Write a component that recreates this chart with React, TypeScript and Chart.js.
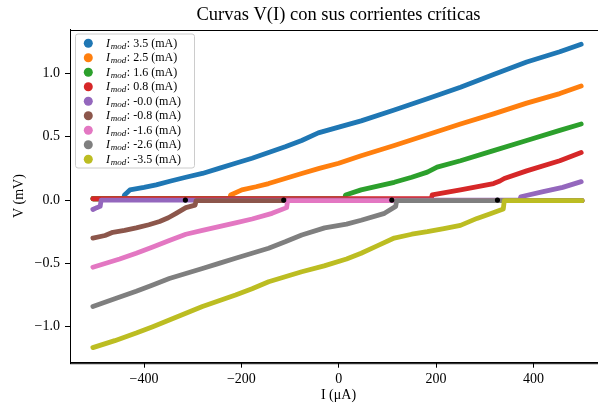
import React, { useEffect, useRef } from "react";
import { Chart, registerables } from "chart.js";

Chart.register(...registerables);

// ---- data ----
const MODS = ["3.5", "2.5", "1.6", "0.8", "-0.0", "-0.8", "-1.6", "-2.6", "-3.5"];
const COLORS = ["#1f77b4", "#ff7f0e", "#2ca02c", "#d62728", "#9467bd", "#8c564b", "#e377c2", "#7f7f7f", "#bcbd22"];

const I_P35 = [-505, -442, -440, -429, -400, -375, -345, -314, -280, -246, -212, -178, -144, -110, -76, -42, 0, 46, 114, 182, 250, 318, 386, 454, 498];
const V_P35 = [0.01, 0.01, 0.04, 0.08, 0.1, 0.12, 0.15, 0.18, 0.21, 0.25, 0.29, 0.33, 0.375, 0.42, 0.47, 0.53, 0.575, 0.625, 0.71, 0.8, 0.89, 0.99, 1.09, 1.17, 1.23];

const I_P25 = [-505, -224, -222, -199, -170, -144, -110, -76, -40, 0, 46, 114, 182, 250, 318, 386, 454, 498];
const V_P25 = [0.01, 0.01, 0.04, 0.08, 0.105, 0.13, 0.17, 0.21, 0.25, 0.29, 0.35, 0.43, 0.515, 0.6, 0.68, 0.765, 0.84, 0.9];

const I_P16 = [-505, 12, 14, 46, 80, 114, 150, 182, 202, 250, 318, 386, 454, 498];
const V_P16 = [0.01, 0.01, 0.04, 0.08, 0.11, 0.14, 0.18, 0.22, 0.26, 0.31, 0.39, 0.47, 0.55, 0.6];

const I_P08 = [-505, 190, 192, 250, 318, 331, 340, 386, 454, 498];
const V_P08 = [0.01, 0.01, 0.04, 0.08, 0.13, 0.15, 0.17, 0.23, 0.31, 0.375];

const I_P00 = [-505, -497, -490, -488, 372, 374, 420, 460, 498];
const V_P00 = [-0.075, -0.06, -0.05, 0.0, 0.0, 0.026, 0.066, 0.1, 0.145];

const I_N08 = [-505, -480, -464, -440, -416, -390, -368, -350, -334, -314, -295, -293, 500];
const V_N08 = [-0.3, -0.28, -0.255, -0.24, -0.22, -0.195, -0.17, -0.14, -0.105, -0.06, -0.04, -0.005, -0.005];

const I_N16 = [-505, -450, -416, -382, -348, -314, -280, -246, -212, -178, -137, -107, -105, 500];
const V_N16 = [-0.53, -0.466, -0.42, -0.37, -0.32, -0.27, -0.24, -0.21, -0.18, -0.15, -0.105, -0.06, -0.005, -0.005];

const I_N26 = [-505, -460, -416, -382, -348, -314, -280, -246, -212, -178, -144, -110, -76, -29, 16, 46, 94, 117, 119, 500];
const V_N26 = [-0.84, -0.78, -0.72, -0.67, -0.62, -0.58, -0.54, -0.5, -0.46, -0.42, -0.38, -0.33, -0.276, -0.22, -0.19, -0.16, -0.105, -0.05, -0.005, -0.005];

const I_N35 = [-505, -460, -416, -382, -348, -314, -280, -246, -212, -178, -144, -110, -76, -30, 16, 46, 80, 114, 150, 182, 216, 250, 284, 310, 338, 340, 500];
const V_N35 = [-1.165, -1.11, -1.05, -1.0, -0.947, -0.893, -0.84, -0.795, -0.75, -0.7, -0.645, -0.605, -0.566, -0.52, -0.466, -0.42, -0.36, -0.3, -0.27, -0.25, -0.225, -0.2, -0.145, -0.11, -0.07, -0.005, -0.005];

const CRIT_I = [-315, -113, 109, 326];
const CRIT_V = [0, 0, 0, 0];

const X_TICKS = [-400, -200, 0, 200, 400];
const Y_TICKS = [-1.0, -0.5, 0.0, 0.5, 1.0];

const SERIES: [number[], number[]][] = [
  [I_P35, V_P35],
  [I_P25, V_P25],
  [I_P16, V_P16],
  [I_P08, V_P08],
  [I_P00, V_P00],
  [I_N08, V_N08],
  [I_N16, V_N16],
  [I_N26, V_N26],
  [I_N35, V_N35],
];

const W = 611;
const H = 407;
const SERIF = "'Liberation Serif', 'DejaVu Serif', serif";

const fmt = (v: number, d: number) => (v < -1e-9 ? "\u2212" : "") + Math.abs(v).toFixed(d);

const framePlugin = {
  id: "mplFrame",
  afterDatasetsDraw(chart: any) {
    const { ctx, chartArea: a } = chart;
    ctx.save();
    ctx.strokeStyle = "#000";
    ctx.lineWidth = 1;
    ctx.strokeRect(Math.round(a.left) + 0.5, Math.round(a.top) + 0.5, a.right - a.left, a.bottom - a.top);
    ctx.restore();
  },
};

const legendPlugin = {
  id: "mplLegend",
  afterDraw(chart: any) {
    const ctx = chart.ctx;
    const x0 = 75, y0 = 33.5, w = 119, h = 134;
    ctx.save();
    ctx.beginPath();
    if (ctx.roundRect) ctx.roundRect(x0 + 0.5, y0 + 0.5, w, h, 2.5);
    else ctx.rect(x0 + 0.5, y0 + 0.5, w, h);
    ctx.fillStyle = "rgba(255,255,255,0.8)";
    ctx.fill();
    ctx.strokeStyle = "#cccccc";
    ctx.lineWidth = 1;
    ctx.stroke();
    MODS.forEach((m, i) => {
      const cy = 43.3 + i * 14.5;
      ctx.beginPath();
      ctx.arc(88.3, cy, 4.5, 0, Math.PI * 2);
      ctx.fillStyle = COLORS[i];
      ctx.fill();
      ctx.fillStyle = "#000";
      ctx.textBaseline = "alphabetic";
      ctx.textAlign = "left";
      const base = cy + 3.6;
      let x = 106;
      ctx.font = `italic 12px ${SERIF}`;
      ctx.fillText("I", x, base);
      x += ctx.measureText("I").width + 0.8;
      ctx.font = `italic 9px ${SERIF}`;
      ctx.fillText("mod", x, base + 2);
      x += ctx.measureText("mod").width + 0.5;
      ctx.font = `12px ${SERIF}`;
      ctx.fillText(`: ${m} (mA)`, x, base);
    });
    ctx.restore();
  },
};

export default function App() {
  const ref = useRef<HTMLCanvasElement | null>(null);

  useEffect(() => {
    if (!ref.current) return;
    const datasets: any[] = SERIES.map(([xs, ys], i) => ({
      label: `Imod: ${MODS[i]} (mA)`,
      data: xs.map((x, k) => ({ x, y: ys[k] })),
      showLine: true,
      borderColor: COLORS[i],
      backgroundColor: COLORS[i],
      borderWidth: 4.8,
      pointRadius: 0,
      pointHoverRadius: 0,
      borderCapStyle: "round",
      borderJoinStyle: "round",
      tension: 0,
      order: 20 - i,
    }));
    datasets.push({
      label: "Ic",
      data: CRIT_I.map((x, k) => ({ x, y: CRIT_V[k] })),
      showLine: false,
      pointRadius: 2.6,
      pointBackgroundColor: "#000",
      pointBorderWidth: 0,
      backgroundColor: "#000",
      borderColor: "#000",
      order: 0,
    });

    const chart = new Chart(ref.current, {
      type: "scatter",
      data: { datasets },
      options: {
        responsive: false,
        animation: false,
        devicePixelRatio: 1,
        layout: { padding: 0 },
        plugins: {
          legend: { display: false },
          tooltip: { enabled: false },
          title: {
            display: true,
            fullSize: false,
            text: "Curvas V(I) con sus corrientes críticas",
            color: "#000",
            font: { family: SERIF, size: 18.5, weight: "normal", lineHeight: 1.1 },
            padding: { top: 5.3, bottom: 3.85 },
          },
        },
        scales: {
          x: {
            type: "linear",
            min: -552,
            max: 551,
            afterBuildTicks: (s: any) => {
              s.ticks = X_TICKS.map((v) => ({ value: v }));
            },
            afterFit: (s: any) => {
              s.height = H - 362.7;
            },
            ticks: {
              callback: (v: any) => fmt(Number(v), 0),
              color: "#000",
              font: { family: SERIF, size: 14 },
              padding: 3,
              maxRotation: 0,
              autoSkip: false,
            },
            grid: { display: true, drawOnChartArea: false, drawTicks: true, tickLength: 5, color: "#000", tickWidth: 1 },
            border: { display: true, color: "#000", width: 1 },
            title: {
              display: true,
              text: "I (μA)",
              color: "#000",
              font: { family: SERIF, size: 14 },
              padding: { top: 0, bottom: 3 },
            },
          },
          y: {
            type: "linear",
            min: -1.284,
            max: 1.346,
            afterBuildTicks: (s: any) => {
              s.ticks = Y_TICKS.map((v) => ({ value: v }));
            },
            afterFit: (s: any) => {
              s.width = 70;
            },
            ticks: {
              callback: (v: any) => fmt(Number(v), 1),
              color: "#000",
              font: { family: SERIF, size: 14 },
              padding: 5,
              autoSkip: false,
            },
            grid: { display: true, drawOnChartArea: false, drawTicks: true, tickLength: 5, color: "#000", tickWidth: 1 },
            border: { display: true, color: "#000", width: 1 },
            title: {
              display: true,
              text: "V (mV)",
              color: "#000",
              font: { family: SERIF, size: 14 },
              padding: { top: 10.6, bottom: 0 },
            },
          },
        },
      } as any,
      plugins: [framePlugin, legendPlugin],
    });
    return () => chart.destroy();
  }, []);

  return (
    <div style={{ position: "fixed", left: 0, top: 0, width: 598, height: 407, overflow: "hidden", background: "#fff" }}>
      <canvas ref={ref} width={W} height={H} style={{ display: "block", width: W, height: H }} />
    </div>
  );
}
